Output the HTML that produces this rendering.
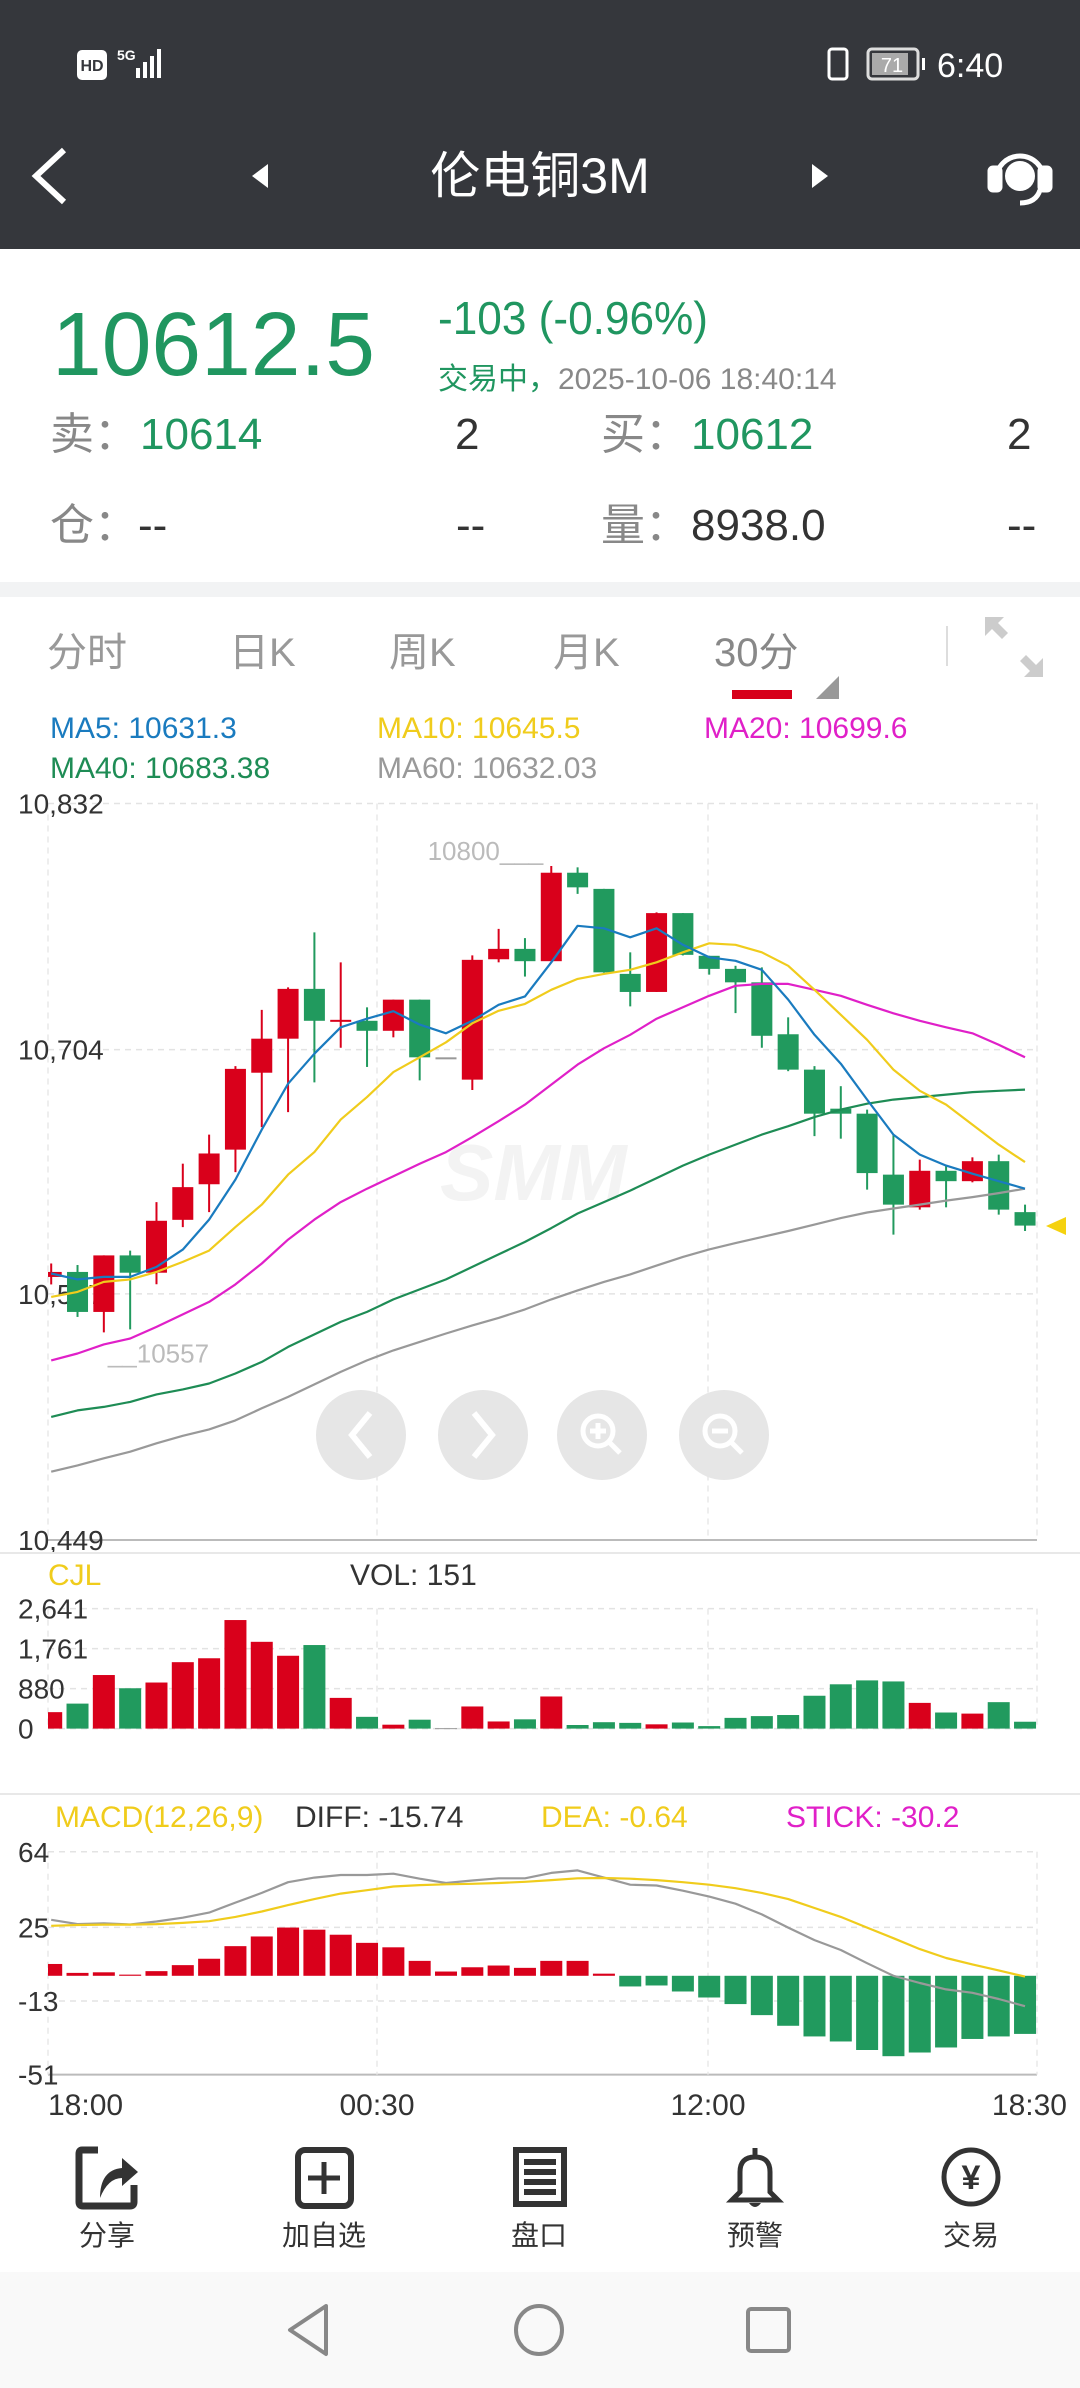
<!DOCTYPE html>
<html><head><meta charset="utf-8"><style>
html,body{margin:0;padding:0;background:#fff;}
svg{display:block;font-family:"Liberation Sans","Noto Sans CJK SC",sans-serif;}
</style></head><body>
<svg id="root" width="1080" height="2388" viewBox="0 0 1080 2388" xmlns="http://www.w3.org/2000/svg">
<rect x="0" y="0" width="1080" height="249" fill="#35373c"/>
<g fill="#fff">
 <rect x="77" y="50" width="30" height="30" rx="5" fill="#fff"/>
 <text x="92" y="71" font-size="16" font-weight="bold" fill="#35373c" text-anchor="middle">HD</text>
 <text x="117" y="60" font-size="14" font-weight="bold">5G</text>
 <rect x="136" y="68" width="4" height="10"/><rect x="143" y="62" width="4" height="16"/><rect x="150" y="56" width="4" height="22"/><rect x="157" y="49" width="4" height="29"/>
 <rect x="829" y="49" width="18" height="30" rx="3" fill="none" stroke="#fff" stroke-width="3"/>
 <rect x="868" y="49" width="50" height="30" rx="4" fill="none" stroke="#ddd" stroke-width="3"/>
 <rect x="872" y="53" width="36" height="22" fill="#aaa"/>
 <text x="892" y="72" font-size="20" fill="#fff" text-anchor="middle">71</text>
 <rect x="922" y="58" width="3" height="12"/>
 <text x="937" y="77" font-size="34" fill="#fff">6:40</text>
</g>
<g>
 <path d="M64 150 L36 176 L64 202" fill="none" stroke="#fff" stroke-width="6"/>
 <path d="M268 164 L252 176 L268 188 Z" fill="#fff"/>
 <text x="540" y="193" font-size="50" fill="#fff" text-anchor="middle">伦电铜3M</text>
 <path d="M812 164 L828 176 L812 188 Z" fill="#fff"/>
 <g fill="none" stroke="#fff" stroke-width="5">
  <path d="M996 180 A24 24 0 0 1 1044 180"/>
  <rect x="990" y="168" width="10" height="22" rx="3" fill="#fff"/>
  <rect x="1040" y="168" width="10" height="22" rx="3" fill="#fff"/>
  <circle cx="1020" cy="176" r="15" fill="#fff" stroke="none"/>
  <path d="M1040 190 Q1036 203 1020 203" />
 </g>
</g>
<g>
 <text x="52" y="375" font-size="90" fill="#209660" textLength="323" lengthAdjust="spacingAndGlyphs">10612.5</text>
 <text x="438" y="334" font-size="46" fill="#209660" textLength="270" lengthAdjust="spacingAndGlyphs">-103  (-0.96%)</text>
 <text x="438" y="389" font-size="30" fill="#209660">交易中，<tspan fill="#888">2025-10-06 18:40:14</tspan></text>
 <text x="50" y="449" font-size="44" fill="#888">卖：</text>
 <text x="140" y="449" font-size="44" fill="#209660">10614</text>
 <text x="455" y="449" font-size="44" fill="#333">2</text>
 <text x="601" y="449" font-size="44" fill="#888">买：</text>
 <text x="691" y="449" font-size="44" fill="#209660">10612</text>
 <text x="1007" y="449" font-size="44" fill="#333">2</text>
 <text x="50" y="540" font-size="44" fill="#888">仓：</text>
 <text x="138" y="540" font-size="44" fill="#333">--</text>
 <text x="456" y="540" font-size="44" fill="#333">--</text>
 <text x="601" y="540" font-size="44" fill="#888">量：</text>
 <text x="691" y="540" font-size="44" fill="#333">8938.0</text>
 <text x="1007" y="540" font-size="44" fill="#333">--</text>
</g>
<rect x="0" y="582" width="1080" height="15" fill="#f2f3f4"/>
<g font-size="40" fill="#999">
 <text x="47" y="666">分时</text>
 <text x="229" y="666">日K</text>
 <text x="389" y="666">周K</text>
 <text x="553" y="666">月K</text>
 <text x="714" y="666" fill="#888">30分</text>
 <rect x="732" y="690" width="60" height="9" fill="#d7001a"/>
 <path d="M839 676 L839 699 L816 699 Z" fill="#999"/>
 <rect x="946" y="626" width="2" height="40" fill="#ddd"/>
 <g fill="#ccc">
  <path d="M985 617 L1004 617 L998 623 L1008 633 L1002 639 L992 629 L985 636 Z"/>
  <path d="M1043 677 L1024 677 L1030 671 L1020 661 L1026 655 L1036 665 L1043 658 Z"/>
 </g>
</g>
<g font-size="30">
 <text x="50" y="738" fill="#1a7bbf">MA5: 10631.3</text>
 <text x="377" y="738" fill="#f0cc1c">MA10: 10645.5</text>
 <text x="704" y="738" fill="#e020c8">MA20: 10699.6</text>
 <text x="50" y="778" fill="#1e8c55">MA40: 10683.38</text>
 <text x="377" y="778" fill="#999">MA60: 10632.03</text>
</g>
<g id="priceGrid"></g>
<text x="440" y="1200" font-size="80" font-weight="bold" font-style="italic" fill="#f3f3f3">SMM</text>
<g id="priceChart"></g>
<g>
 <g><circle cx="361" cy="1435" r="45" fill="#e6e6e6"/><path d="M370 1413 L352 1435 L370 1457" fill="none" stroke="#fff" stroke-width="6"/></g>
 <g><circle cx="483" cy="1435" r="45" fill="#e6e6e6"/><path d="M474 1413 L492 1435 L474 1457" fill="none" stroke="#fff" stroke-width="6"/></g>
 <g><circle cx="602" cy="1435" r="45" fill="#e6e6e6"/><circle cx="598" cy="1431" r="15" fill="none" stroke="#fff" stroke-width="5"/><path d="M609 1442 L620 1453 M590 1431 L606 1431 M598 1423 L598 1439" stroke="#fff" stroke-width="5"/></g>
 <g><circle cx="724" cy="1435" r="45" fill="#e6e6e6"/><circle cx="720" cy="1431" r="15" fill="none" stroke="#fff" stroke-width="5"/><path d="M731 1442 L742 1453 M712 1431 L728 1431" stroke="#fff" stroke-width="5"/></g>
</g>
<path d="M1046 1226 L1066 1217 L1066 1235 Z" fill="#f5d20f"/>
<rect x="0" y="1552" width="1080" height="2" fill="#e8e8e8"/>
<text x="48" y="1585" font-size="30" fill="#f0cc1c">CJL</text>
<text x="350" y="1585" font-size="30" fill="#333">VOL: 151</text>
<g id="volChart"></g>
<rect x="0" y="1793" width="1080" height="2" fill="#e8e8e8"/>
<g font-size="30">
 <text x="55" y="1827" fill="#f0cc1c">MACD(12,26,9)</text>
 <text x="295" y="1827" fill="#333">DIFF: -15.74</text>
 <text x="541" y="1827" fill="#f0cc1c">DEA: -0.64</text>
 <text x="786" y="1827" fill="#e020c8">STICK: -30.2</text>
</g>
<g id="macdChart"></g>
<g id="timeAxis" font-size="30" fill="#333"></g>
<g font-size="28" fill="#333" text-anchor="middle">
 <g>
  <path d="M98 2150 L82 2150 Q79 2150 79 2154 L79 2202 Q79 2206 83 2206 L130 2206 Q134 2206 134 2202 L134 2185" fill="none" stroke="#333" stroke-width="7"/>
  <path d="M100 2198 Q100 2170 122 2168 L122 2158 L138 2172 L122 2186 L122 2178 Q108 2178 100 2198 Z" fill="#333"/>
  <text x="107" y="2245">分享</text></g>
 <g>
  <rect x="298" y="2150" width="53" height="56" rx="7" fill="none" stroke="#333" stroke-width="6"/>
  <path d="M324 2162 L324 2194 M308 2178 L340 2178" stroke="#333" stroke-width="5"/>
  <text x="324" y="2245">加自选</text></g>
 <g>
  <rect x="513" y="2147" width="54" height="60" fill="#333"/>
  <rect x="519" y="2153" width="42" height="48" fill="#fff"/>
  <rect x="524" y="2159" width="32" height="6" fill="#333"/><rect x="524" y="2169" width="32" height="6" fill="#333"/><rect x="524" y="2179" width="32" height="6" fill="#333"/><rect x="524" y="2189" width="32" height="6" fill="#333"/>
  <text x="539" y="2245">盘口</text></g>
 <g>
  <path d="M755 2148 L755 2156 M740 2192 L740 2172 Q740 2157 755 2157 Q770 2157 770 2172 L770 2192 L778 2200 L732 2200 Z" fill="none" stroke="#333" stroke-width="5"/>
  <path d="M749 2203 Q755 2211 761 2203" fill="#333"/>
  <text x="755" y="2245">预警</text></g>
 <g>
  <circle cx="971" cy="2177" r="27" fill="none" stroke="#333" stroke-width="5"/>
  <text x="971" y="2189" font-size="34" font-weight="bold">¥</text>
  <text x="971" y="2245">交易</text></g>
</g>
<rect x="0" y="2272" width="1080" height="116" fill="#f9f9f9"/>
<path d="M326 2306 L290 2330 L326 2354 Z" fill="none" stroke="#888" stroke-width="4" stroke-linejoin="round"/>
<ellipse cx="539" cy="2330" rx="23" ry="24" fill="none" stroke="#888" stroke-width="4"/>
<rect x="748" y="2309" width="41" height="42" rx="3" fill="none" stroke="#888" stroke-width="4"/>
</svg>
<script>
const candleOpen=[10585.8,10588.4,10567.6,10597,10588,10615.5,10634,10652,10692,10709.7,10735.6,10719,10719,10713.8,10730,10700,10688.4,10751,10756.4,10750,10796,10787.6,10743.4,10734,10775,10752.8,10746,10739,10712,10693.6,10673.3,10670.7,10639,10622,10641,10635.6,10646,10619.5];
const candleHigh=[10592.8,10592,10597,10599.5,10624.7,10644.7,10659.8,10695.4,10724.7,10736.4,10765,10749.4,10726,10730,10730,10700,10753,10766.8,10762,10799.5,10798.8,10787.6,10754.6,10775.4,10775,10752.8,10747.6,10746.8,10720.8,10695.4,10685,10672.8,10659.8,10646.8,10644,10648,10649.4,10623.4];
const candleLow=[10581.9,10565,10557,10558.5,10582,10611.7,10619.5,10640.3,10663.7,10671.5,10687,10705,10695,10710.4,10688,10700,10683,10749.4,10742,10750,10785,10744,10726.5,10734,10753,10743,10723,10705,10692.8,10659,10657.7,10631.2,10607.8,10620.8,10622,10635,10618.2,10609.7];
const candleClose=[10588.4,10567.6,10597,10588,10615,10632.5,10650,10694,10709.7,10735.6,10719,10719.5,10713.8,10730,10700,10700,10750.7,10756.4,10750,10796,10788.4,10744.2,10734,10775,10753.3,10746,10739,10711.2,10693.6,10670.7,10670.7,10639.8,10623.4,10641,10635.6,10646,10620.8,10612.5];
const ma5=[10587.6,10584.5,10585.8,10585.8,10591,10600,10615.6,10636.4,10662.4,10686.3,10701.9,10715.6,10720.1,10724,10717,10712.5,10719,10727.3,10731.7,10749.4,10768.4,10767.1,10762.4,10767.1,10758.5,10752,10750.2,10745.5,10730,10711.7,10696.7,10678,10659.8,10649.4,10643.7,10639.5,10635.6,10631.7];
const ma10=[10575.4,10578,10583.2,10584.5,10588.4,10593.6,10599.5,10611.7,10623.4,10639,10650.7,10667.6,10679.3,10692.3,10700,10707.8,10717.7,10724.2,10727.8,10735.1,10740.8,10743.4,10745.5,10749.4,10754.6,10759.3,10758.5,10754.6,10747.6,10735.1,10722.1,10709.1,10693.6,10682.6,10675.4,10665,10654.6,10645.5];
const ma20=[10542.4,10546,10550.7,10553.8,10559.8,10566.3,10572.8,10581.9,10592.8,10605.2,10615.6,10624.7,10631.7,10638.2,10644.7,10650.7,10658.5,10666.8,10675.4,10685.8,10696.2,10704.7,10711.7,10720.1,10726,10732,10737.2,10738.2,10738.2,10735.1,10732,10727.3,10722.9,10719,10715.6,10712.5,10706.5,10700];
const ma40=[10513,10516.4,10518.2,10520.8,10524.7,10527.3,10530.4,10535.6,10541.6,10549.4,10555.9,10562.4,10567.6,10574.1,10579.3,10584.5,10591,10597.5,10604,10611.2,10618.8,10624.7,10630.7,10637.2,10643.7,10649.4,10654.6,10659.8,10664.2,10668.9,10672.8,10675.9,10678,10679.3,10680.6,10681.9,10682.6,10683.2];
const ma60=[10484.5,10487.8,10491.5,10494.9,10499.3,10503.2,10506.5,10511.2,10517.5,10523.4,10529.9,10536.4,10542.4,10547.6,10552,10556.4,10560.6,10564.5,10568.9,10574.1,10578.8,10583.2,10587.1,10591.7,10596.2,10600.1,10603.4,10606.5,10609.7,10613,10616.4,10619.3,10621.4,10623.4,10625.5,10627.3,10629.4,10631.7];
const volumes=[362,550,1179,888,1014,1462,1548,2389,1910,1603,1839,676,259,86,196,10,487,157,204,707,79,141,126,94,134,55,236,275,299,723,975,1061,1038,566,354,330,582,151];
const macdStick=[6.1,1.5,1.8,0.6,2.4,5.5,8.8,15.3,20.3,24.9,23.8,21.2,17,14.7,7.7,2.2,4.4,5.3,4.1,7.7,7.7,1.1,-5.5,-5,-8.1,-11.2,-14.6,-20.3,-25.8,-31.3,-33.9,-38.3,-41.5,-39.6,-37,-32.6,-31.3,-30];
const macdDiff=[28.9,26.7,27.1,26.5,28,30,32.6,37.8,42.8,48.3,50.7,52,52,52.7,50.1,47.9,49.2,50.3,50.3,53.1,54.4,50.7,47,46.6,43.9,40.9,37.2,31.7,24.9,18.4,13.3,6.5,0,-3.7,-7,-8.8,-12,-15.7];
const macdDea=[25.8,26.2,26.4,26.4,26.7,27.3,28.2,30.4,33.2,36.5,39.6,42.4,44.2,46.1,46.8,47.2,47.5,47.9,48.5,49.4,50.3,50.5,50.1,49.4,48.3,47,45.2,42.8,39.6,35,30.4,24.9,19.4,13.8,9.2,5.9,2.8,-0.4];
const priceTicks=[10832,10704,10577,10449];
const priceTickLabels=["10,832","10,704","10,577","10,449"];
const volTicks=[2641,1761,880,0];
const volTickLabels=["2,641","1,761","880","0"];
const macdTicks=[64,25,-13,-51];
const macdTickLabels=["64","25","-13","-51"];
const timeLabels=["18:00","00:30","12:00","18:30"];
const highLabel="10800";
const lowLabel="10557";

const NS="http://www.w3.org/2000/svg";
const L=48,R=1037,N=candleClose.length,STEP=26.32,X0=51.2,BW=21;
const PMAX=10832,PMIN=10449,PT=803.5,PB=1540;
const VMAX=2641,VT=1608.6,VB=1728.6;
const MMAX=64,MMIN=-51,MT=1851.8,MB=2074.6;
const RED="#d9001b",GREEN="#219a5e",GRAY="#999";
function xAt(i){return X0+STEP*i;}
function yP(v){return PT+(PMAX-v)*(PB-PT)/(PMAX-PMIN);}
function yV(v){return VB-v*(VB-VT)/VMAX;}
function yM(v){return MT+(MMAX-v)*(MB-MT)/(MMAX-MMIN);}
function mk(tag,attrs,parent){const e=document.createElementNS(NS,tag);for(const k in attrs)e.setAttribute(k,attrs[k]);parent.appendChild(e);return e;}
const root=document.getElementById('root');
const defs=mk('defs',{},root);
const cp=mk('clipPath',{id:'plotClip'},defs);
mk('rect',{x:L,y:700,width:R-L,height:1500},cp);

function grid(g,ys,top,bottom,solidBottom){
  ys.forEach(function(y,k){
    const last=k===ys.length-1&&solidBottom;
    const ln=mk('line',{x1:L,x2:R,y1:y,y2:y,stroke:last?'#bbb':'#e3e3e3','stroke-width':last?2:1.5,'stroke-dasharray':last?'':'6,5'},g);
    
    
  });
  [L,377,708,R].forEach(function(x){
    const v=mk('line',{x1:x,x2:x,y1:top,y2:bottom,stroke:'#e8e8e8','stroke-width':1.5,'stroke-dasharray':'6,5'},g);
    
    
  });
}
function tickLabels(g,ticks,labels,yf){
  ticks.forEach(function(t,k){
    const tx=mk('text',{x:18,y:yf(t)+10,'font-size':28,fill:'#333'},g);
    tx.textContent=labels[k];
    
    
  });
}
function line(g,vals,yf,color,name,w){
  let d='';vals.forEach(function(v,i){d+=(i?'L':'M')+xAt(i).toFixed(1)+' '+yf(v).toFixed(1);});
  const p=mk('path',{d:d,fill:'none',stroke:color,'stroke-width':w||2.2,'stroke-linejoin':'round'},g);
  
  
}
function colorOf(i){return candleClose[i]>candleOpen[i]?RED:(candleClose[i]<candleOpen[i]?GREEN:GRAY);}

// price
const pg=document.getElementById('priceGrid');
grid(pg,priceTicks.map(yP),PT,PB,true);
tickLabels(pg,priceTicks,priceTickLabels,yP);
const pc=document.getElementById('priceChart');
const pcl=mk('g',{'clip-path':'url(#plotClip)'},pc);
for(let i=0;i<N;i++){
  const c=colorOf(i),x=xAt(i);
  const g=mk('g',{},pcl);
  
  
  mk('line',{x1:x,x2:x,y1:yP(candleHigh[i]),y2:yP(candleLow[i]),stroke:c,'stroke-width':2},g);
  const top=yP(Math.max(candleOpen[i],candleClose[i])),bot=yP(Math.min(candleOpen[i],candleClose[i]));
  mk('rect',{x:x-BW/2,y:top,width:BW,height:Math.max(bot-top,2),fill:c},g);
}
line(pcl,ma60,yP,'#999','ma60-line');
line(pcl,ma40,yP,'#1e8c55','ma40-line');
line(pcl,ma20,yP,'#e020c8','ma20-line');
line(pcl,ma10,yP,'#f0cc1c','ma10-line');
line(pcl,ma5,yP,'#1a7bbf','ma5-line');
let hi=0,lo=0;
for(let i=0;i<N;i++){if(candleHigh[i]>candleHigh[hi])hi=i;if(candleLow[i]<candleLow[lo])lo=i;}
const ht=mk('text',{x:xAt(hi)-8,y:yP(candleHigh[hi])-6,'font-size':26,fill:'#bbb','text-anchor':'end'},pc);
ht.textContent=highLabel+'___';


const lt=mk('text',{x:xAt(lo)+4,y:yP(candleLow[lo])+30,'font-size':26,fill:'#bbb'},pc);
lt.textContent='__'+lowLabel;



// volume
const vg=document.getElementById('volChart');
grid(vg,volTicks.map(yV),VT,VB,false);
tickLabels(vg,volTicks,volTickLabels,yV);
const vcl=mk('g',{'clip-path':'url(#plotClip)'},vg);
for(let i=0;i<N;i++){
  const b=mk('rect',{x:xAt(i)-11,y:yV(volumes[i]),width:22,height:Math.max(VB-yV(volumes[i]),1),fill:colorOf(i)},vcl);
  
  
}

// macd
const mg=document.getElementById('macdChart');
grid(mg,macdTicks.map(yM),MT,MB,true);
tickLabels(mg,macdTicks,macdTickLabels,yM);
const mcl=mk('g',{'clip-path':'url(#plotClip)'},mg);
for(let i=0;i<N;i++){
  const v=macdStick[i],y0=yM(0),y1=yM(v);
  const b=mk('rect',{x:xAt(i)-11,y:Math.min(y0,y1),width:22,height:Math.max(Math.abs(y1-y0),1),fill:v>=0?RED:GREEN},mcl);
  
  
}
line(mcl,macdDiff,yM,'#999','diff-line');
line(mcl,macdDea,yM,'#f0cc1c','dea-line');

// time axis
const ta=document.getElementById('timeAxis');
const tX=[L,377,708,R];
timeLabels.forEach(function(t,k){
  const anchor=k===0?'start':(k===timeLabels.length-1?'end':'middle');
  const tx=mk('text',{x:k===timeLabels.length-1?1067:tX[k],y:2115,'text-anchor':anchor},ta);
  tx.textContent=t;
  
  
});
</script>
</body></html>
